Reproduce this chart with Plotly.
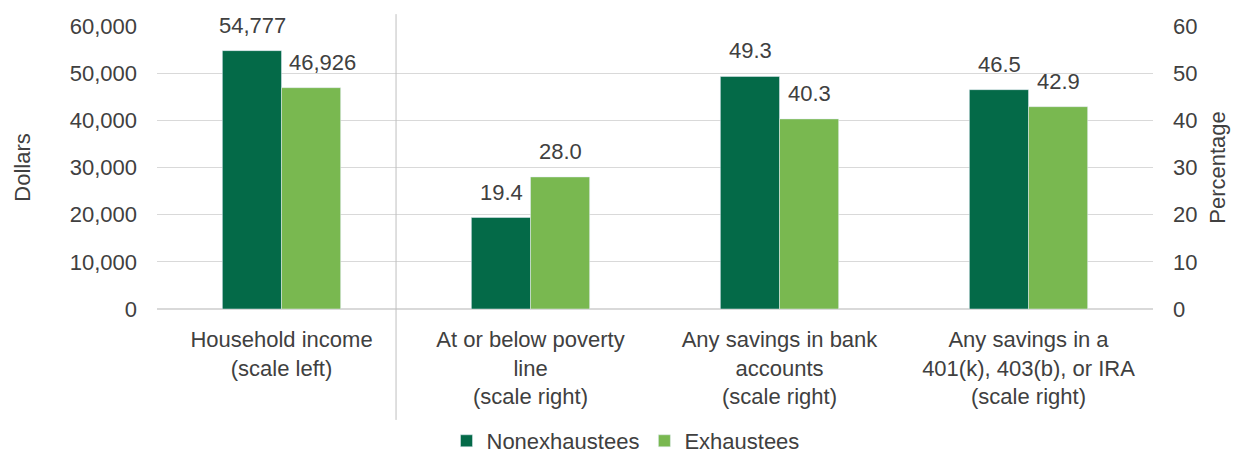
import plotly.graph_objects as go

categories = [
    "Household income<br>(scale left)",
    "At or below poverty<br>line<br>(scale right)",
    "Any savings in bank<br>accounts<br>(scale right)",
    "Any savings in a<br>401(k), 403(b), or IRA<br>(scale right)",
]
series_names = ["Nonexhaustees", "Exhaustees"]
income_non = [54777]
income_exh = [46926]
pct_non = [19.4, 49.3, 46.5]
pct_exh = [28.0, 40.3, 42.9]
left_ticks = [0, 10000, 20000, 30000, 40000, 50000, 60000]
right_ticks = [0, 10, 20, 30, 40, 50, 60]

DARK = "#046A48"
LIGHT = "#79B850"
TXT = "#404040"
FONT = "Liberation Sans, Arial, sans-serif"
FS = 22

fig = go.Figure()
fig.add_trace(go.Bar(name=series_names[0], x=categories[:1], y=income_non, marker_color=DARK,
                     offsetgroup="a", legendgroup="a", yaxis="y"))
fig.add_trace(go.Bar(name=series_names[1], x=categories[:1], y=income_exh, marker_color=LIGHT,
                     offsetgroup="b", legendgroup="b", yaxis="y"))
fig.add_trace(go.Bar(name=series_names[0], x=categories[1:], y=pct_non, marker_color=DARK,
                     offsetgroup="a", legendgroup="a", showlegend=False, yaxis="y2"))
fig.add_trace(go.Bar(name=series_names[1], x=categories[1:], y=pct_exh, marker_color=LIGHT,
                     offsetgroup="b", legendgroup="b", showlegend=False, yaxis="y2"))

annotations = []
shift = 29.5
for vals, cats, yref, sx, fmt in [
    (income_non, categories[:1], "y", -shift, "{:,.0f}"),
    (income_exh, categories[:1], "y", shift + 11, "{:,.0f}"),
    (pct_non, categories[1:], "y2", -shift, "{:.1f}"),
    (pct_exh, categories[1:], "y2", shift, "{:.1f}"),
]:
    for c, v in zip(cats, vals):
        annotations.append(dict(x=c, y=v, xref="x", yref=yref, text=fmt.format(v),
                                showarrow=False, xshift=sx, yanchor="bottom", yshift=11,
                                font=dict(size=FS, color=TXT, family=FONT)))

fig.update_layout(
    width=1235, height=448,
    margin=dict(l=149, r=90, t=18, b=147),
    paper_bgcolor="white", plot_bgcolor="white",
    font=dict(family=FONT, size=FS, color=TXT),
    barmode="group", bargap=0.525, bargroupgap=0,
    xaxis=dict(type="category", categoryorder="array", categoryarray=categories,
               showgrid=False, showline=False, ticks="", automargin=False,
               ticklabelstandoff=15, tickfont=dict(size=FS, color=TXT)),
    yaxis=dict(range=[0, 60000], tickvals=left_ticks, tickformat=",d", automargin=False,
               gridcolor="#D9D9D9", gridwidth=1, zeroline=True, zerolinecolor="#D9D9D9",
               showline=False, ticks="", ticklabelstandoff=19,
               title=dict(text="Dollars", standoff=33, font=dict(size=FS, color=TXT))),
    yaxis2=dict(range=[0, 60], tickvals=right_ticks, overlaying="y", side="right",
                automargin=False, showgrid=False, zeroline=False, showline=False, ticks="",
                ticklabelstandoff=19,
                title=dict(text="Percentage", standoff=13, font=dict(size=FS, color=TXT))),
    legend=dict(orientation="h", xref="container", yref="container",
                x=0.5, xanchor="center", y=0.0335, yanchor="middle",
                font=dict(size=FS, color=TXT), itemwidth=30, traceorder="normal"),
    annotations=annotations,
    shapes=[dict(type="line", xref="paper", yref="paper", x0=0.24, x1=0.24, y0=-0.392, y1=1.042,
                 line=dict(color="#BFBFBF", width=1))],
)

fig.write_html("out.html")
